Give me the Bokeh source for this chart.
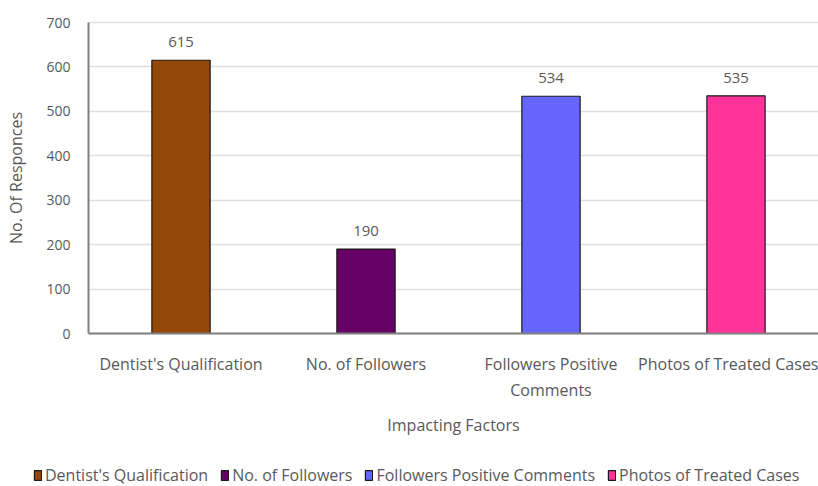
from bokeh.plotting import figure
from bokeh.models import (ColumnDataSource, Range1d, FixedTicker, Legend, LegendItem,
                          LabelSet, CDSView, IndexFilter)
from bokeh.core.properties import value
from bokeh.embed import file_html
from bokeh.resources import INLINE

categories = ["Dentist's Qualification", "No. of Followers",
              "Followers Positive Comments", "Photos of Treated Cases"]
tick_labels = ["Dentist's Qualification", "No. of Followers",
               "Followers Positive\nComments", "Photos of Treated Cases"]
values = [615, 190, 534, 535]
colors = ["#934709", "#660066", "#6666FF", "#FF3399"]
y_ticks = [0, 100, 200, 300, 400, 500, 600, 700]

FONT = "Open Sans"
GRAY = "#595959"

W, H = 818, 486
# frame covers the whole canvas; axes are fixed inside it
LEFT_PX, TOP_PX, ZERO_PX = 88, 22, 333
CAT_PX = 185.0
x_start = -LEFT_PX / CAT_PX
x_end = (W - LEFT_PX) / CAT_PX
unit = (ZERO_PX - TOP_PX) / 700.0
y_end = 700 + TOP_PX / unit
y_start = -(H - ZERO_PX) / unit

xs = [i + 0.5 for i in range(len(categories))]
src = ColumnDataSource(dict(x=xs, top=values, color=colors, cat=categories,
                            lbl=[str(v) for v in values]))

p = figure(width=W, height=H, output_backend="svg", toolbar_location=None,
           x_range=Range1d(x_start, x_end), y_range=Range1d(y_start, y_end),
           min_border=0)
p.outline_line_color = None
p.background_fill_color = "white"

p.ygrid.ticker = FixedTicker(ticks=y_ticks)
p.ygrid.grid_line_color = "#e0e0e0"
p.ygrid.grid_line_width = 1.5
p.ygrid.cross_bounds = (0, x_end)
p.xgrid.grid_line_color = None

rs = []
for i in range(len(categories)):
    r = p.vbar(x="x", top="top", width=0.315, bottom=0, source=src,
               view=CDSView(filter=IndexFilter([i])),
               fill_color="color", line_color="#1a1a1a", line_width=1.2)
    rs.append(r)

labels = LabelSet(x="x", y="top", text="lbl", source=src, y_offset=13,
                  text_align="center", text_baseline="bottom",
                  text_font=value(FONT), text_font_size="15px", text_color=GRAY)
p.add_layout(labels)

p.xaxis.ticker = FixedTicker(ticks=xs)
p.xaxis.major_label_overrides = {x: t for x, t in zip(xs, tick_labels)}
p.yaxis.ticker = FixedTicker(ticks=y_ticks)
p.xaxis.fixed_location = 0
p.yaxis.fixed_location = 0
p.xaxis.bounds = (0, x_end)
p.yaxis.bounds = (0, 700)

for ax in (p.xaxis[0], p.yaxis[0]):
    ax.axis_line_color = "#808080"
    ax.axis_line_width = 2
    ax.major_tick_line_color = None
    ax.minor_tick_line_color = None
    ax.major_label_text_font = FONT
    ax.major_label_text_color = GRAY
    ax.axis_label_text_font = FONT
    ax.axis_label_text_font_size = "16px"
    ax.axis_label_text_font_style = "normal"
    ax.axis_label_text_color = GRAY

p.xaxis.major_label_text_font_size = "16px"
p.yaxis.major_label_text_font_size = "14px"
p.xaxis.major_label_standoff = 13
p.yaxis.major_label_standoff = 12
p.xaxis.axis_label = "Impacting Factors"
p.xaxis.axis_label_standoff = 10
p.yaxis.axis_label = "No. Of Responces"
p.yaxis.axis_label_standoff = 16

legend = Legend(items=[LegendItem(label=c, renderers=[r]) for c, r in zip(categories, rs)],
                orientation="horizontal", location=(33, 0),
                label_text_font=FONT, label_text_font_size="16px", label_text_color=GRAY,
                glyph_width=9, glyph_height=12, spacing=12, label_standoff=3,
                padding=0, margin=0, border_line_color=None,
                background_fill_alpha=0, label_height=16)
p.add_layout(legend)

open("out.html", "w").write(file_html(p, INLINE))
